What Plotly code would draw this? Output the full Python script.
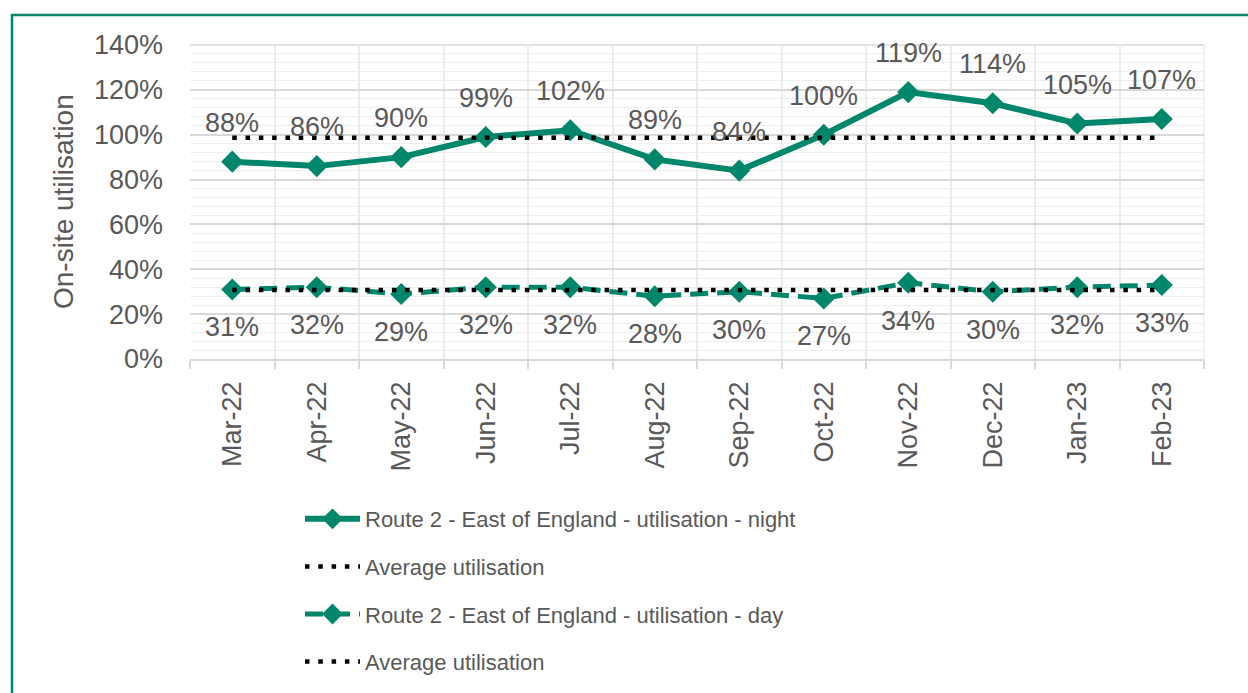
import plotly.graph_objects as go

# Monthly on-site utilisation, Route 2 - East of England
months = ["Mar-22", "Apr-22", "May-22", "Jun-22", "Jul-22", "Aug-22",
          "Sep-22", "Oct-22", "Nov-22", "Dec-22", "Jan-23", "Feb-23"]
night_util = [0.88, 0.86, 0.90, 0.99, 1.02, 0.89, 0.84, 1.00, 1.19, 1.14, 1.05, 1.07]
day_util = [0.31, 0.32, 0.29, 0.32, 0.32, 0.28, 0.30, 0.27, 0.34, 0.30, 0.32, 0.33]
avg_night = 0.986
avg_day = 0.308
y_ticks = [0, 0.2, 0.4, 0.6, 0.8, 1.0, 1.2, 1.4]

GREEN = "#00866a"
GREY_TXT = "#595959"
FONT = "Liberation Sans, Arial, sans-serif"

W, H = 1248, 693
L, R, T, B = 190, 44, 45, 333
PW, PH = W - L - R, H - T - B

fig = go.Figure()

fig.add_trace(go.Scatter(
    x=months, y=night_util, name="Route 2 - East of England - utilisation - night",
    mode="lines+markers",
    line=dict(color=GREEN, width=6),
    marker=dict(symbol="diamond", size=17, color=GREEN),
    legendgroup="g1", legendrank=1,
))
fig.add_trace(go.Scatter(
    x=months, y=day_util, name="Route 2 - East of England - utilisation - day",
    mode="lines+markers",
    line=dict(color=GREEN, width=5, dash="18px,9px"),
    marker=dict(symbol="diamond", size=17, color=GREEN),
    legendgroup="g3", legendrank=3,
))
fig.add_trace(go.Scatter(
    x=months, y=[avg_night] * len(months), name="Average utilisation",
    mode="lines", line=dict(color="black", width=4.5, dash="4.5px,8.8px"),
    legendgroup="g2", legendrank=2,
))
fig.add_trace(go.Scatter(
    x=months, y=[avg_day] * len(months), name="Average utilisation",
    mode="lines", line=dict(color="black", width=4.5, dash="4.5px,8.8px"),
    legendgroup="g4", legendrank=4,
))

# Data labels: night values above the markers, day values below
labels = []
for m, v in zip(months, night_util):
    labels.append(dict(x=m, y=v, text=f"{round(v*100)}%", yshift=39,
                       showarrow=False, xanchor="center", yanchor="middle",
                       font=dict(family=FONT, size=27, color=GREY_TXT)))
for m, v in zip(months, day_util):
    labels.append(dict(x=m, y=v, text=f"{round(v*100)}%", yshift=-38,
                       showarrow=False, xanchor="center", yanchor="middle",
                       font=dict(family=FONT, size=27, color=GREY_TXT)))

labels.append(dict(
    text="On-site utilisation", textangle=-90,
    xref="paper", yref="paper",
    x=(63 - L) / PW, y=0.5, xanchor="center", yanchor="middle",
    showarrow=False, font=dict(family=FONT, size=28, color=GREY_TXT),
))

fig.update_layout(
    width=W, height=H,
    margin=dict(l=L, r=R, t=T, b=B),
    paper_bgcolor="white", plot_bgcolor="white",
    showlegend=True,
    legend=dict(
        x=(300 - L) / PW, y=(360 - 498) / PH,
        xanchor="left", yanchor="top",
        font=dict(family=FONT, size=22, color=GREY_TXT),
        itemwidth=55, traceorder="grouped", tracegroupgap=16,
        bgcolor="rgba(0,0,0,0)",
    ),
    xaxis=dict(
        type="category", tickson="boundaries",
        showgrid=True, gridcolor="#ebebeb", gridwidth=1.5,
        ticks="outside", ticklen=8, tickcolor="#d9d9d9", tickwidth=1.5,
        showline=True, linecolor="#d9d9d9", linewidth=1.5,
        tickangle=-90, ticklabelstandoff=10,
        tickfont=dict(family=FONT, size=27, color=GREY_TXT),
        range=[-0.5, 11.5],
    ),
    yaxis=dict(
        range=[0, 1.4], tickvals=y_ticks, tickformat=".0%",
        showgrid=True, gridcolor="#d9d9d9", gridwidth=1.5,
        minor=dict(dtick=0.04, showgrid=True, gridcolor="#eeeeee", gridwidth=1),
        zeroline=False, ticks="", ticklabelstandoff=26,
        tickfont=dict(family=FONT, size=27, color=GREY_TXT),
    ),
    annotations=labels,
    shapes=[dict(
        type="rect", xref="paper", yref="paper",
        x0=(12 - L) / PW, x1=(W + 20 - L) / PW,
        y0=(360 - (H + 20)) / PH, y1=(360 - 15) / PH,
        line=dict(color=GREEN, width=2.5), fillcolor="rgba(0,0,0,0)",
        layer="below",
    ), dict(
        type="line", xref="paper", yref="paper", x0=1, x1=1, y0=0, y1=1,
        line=dict(color="#ebebeb", width=1.5), layer="below",
    ), dict(
        type="line", xref="paper", yref="paper", x0=0, x1=1, y0=1, y1=1,
        line=dict(color="#d9d9d9", width=1.5), layer="below",
    )],
)

fig.write_html("out.html")
